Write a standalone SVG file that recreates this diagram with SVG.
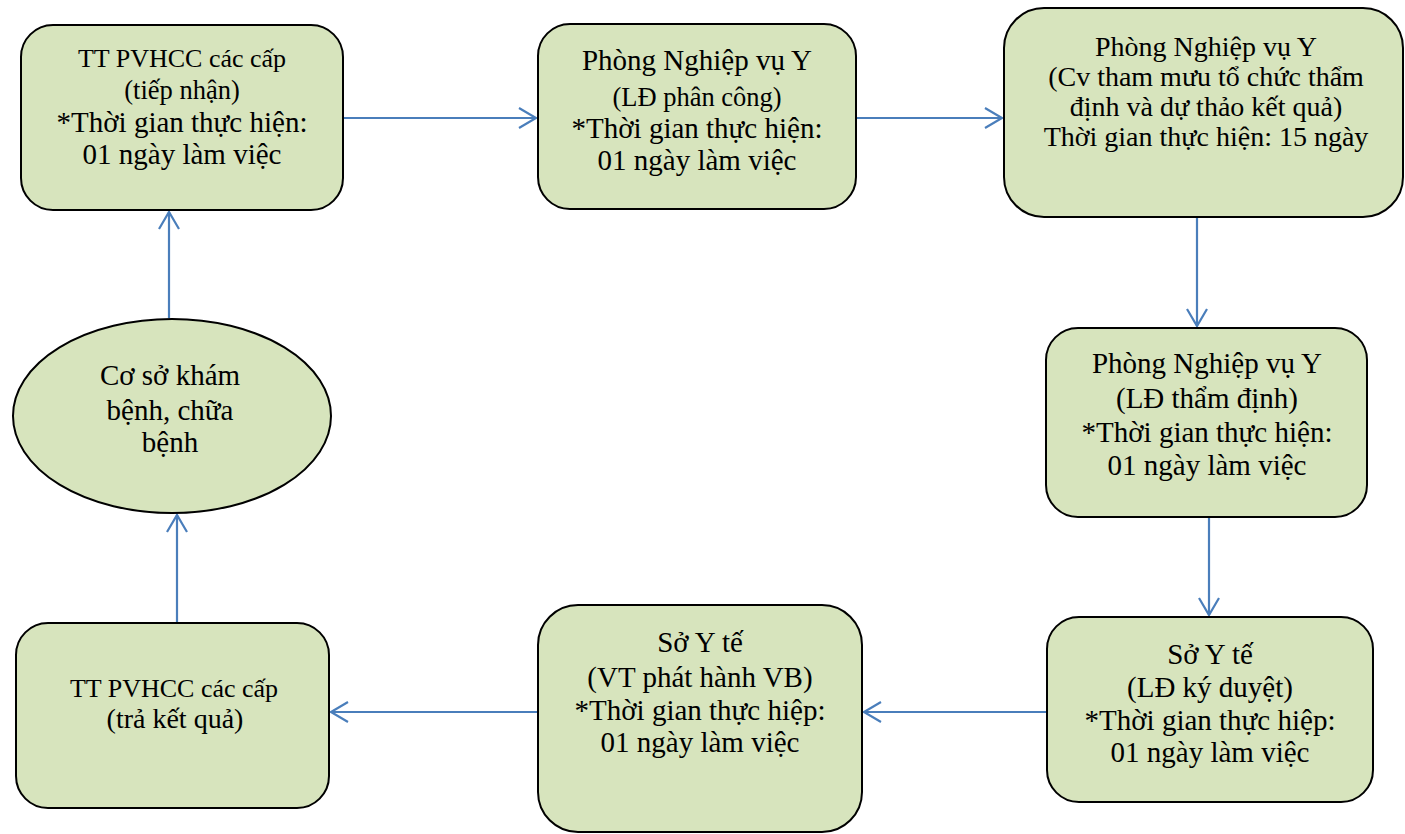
<svg xmlns="http://www.w3.org/2000/svg" width="1405" height="834" viewBox="0 0 1405 834">
<style>
.box{fill:#D7E4BD;stroke:#000;stroke-width:2}
.t{font-family:"Liberation Serif","Times New Roman",serif;font-size:29px;fill:#000;text-anchor:middle}
.s{font-size:26.5px}
.m{font-size:26px}
.l{font-size:28px}
.c{stroke:#4A7EBB;stroke-width:2.2;fill:none;marker-end:url(#ah)}
</style>
<defs>
<marker id="ah" markerUnits="userSpaceOnUse" markerWidth="22" markerHeight="24" refX="19" refY="12" orient="auto">
<path d="M2,2 L19,12 L2,22" fill="none" stroke="#4A7EBB" stroke-width="2.2"/>
</marker>
</defs>
<rect width="1405" height="834" fill="#fff"/>
<g id="connectors">
<line class="c" x1="343" y1="118" x2="536" y2="118"/>
<line class="c" x1="856" y1="118" x2="1002" y2="118"/>
<line class="c" x1="1197" y1="217" x2="1197" y2="326"/>
<line class="c" x1="1209" y1="517" x2="1209" y2="615"/>
<line class="c" x1="1047" y1="712" x2="864" y2="712"/>
<line class="c" x1="538" y1="712" x2="331" y2="712"/>
<line class="c" x1="177" y1="623" x2="177" y2="515"/>
<line class="c" x1="169" y1="318" x2="169" y2="212"/>
</g>
<g id="n1">
<rect class="box" x="21" y="25" width="322" height="185" rx="32"/>
<text class="t m" x="182" y="67">TT PVHCC các cấp</text>
<text class="t s" x="182" y="99">(tiếp nhận)</text>
<text class="t" x="182" y="132">*Thời gian thực hiện:</text>
<text class="t" x="182" y="164">01 ngày làm việc</text>
</g>
<g id="n2">
<rect class="box" x="538" y="24" width="318" height="185" rx="32"/>
<text class="t" x="697" y="70">Phòng Nghiệp vụ Y</text>
<text class="t s" x="697" y="106">(LĐ phân công)</text>
<text class="t" x="697" y="138">*Thời gian thực hiện:</text>
<text class="t" x="697" y="170">01 ngày làm việc</text>
</g>
<g id="n3">
<rect class="box" x="1004" y="8" width="399" height="209" rx="40"/>
<text class="t l" x="1206" y="56">Phòng Nghiệp vụ Y</text>
<text class="t l" x="1206" y="86">(Cv tham mưu tổ chức thẩm</text>
<text class="t l" x="1206" y="116">định và dự thảo kết quả)</text>
<text class="t l" x="1206" y="146">Thời gian thực hiện: 15 ngày</text>
</g>
<g id="n4">
<rect class="box" x="1046" y="328" width="321" height="189" rx="32"/>
<text class="t" x="1207" y="373">Phòng Nghiệp vụ Y</text>
<text class="t" x="1207" y="408">(LĐ thẩm định)</text>
<text class="t" x="1207" y="442">*Thời gian thực hiện:</text>
<text class="t" x="1207" y="475">01 ngày làm việc</text>
</g>
<g id="n5">
<ellipse class="box" cx="172" cy="416" rx="159" ry="97"/>
<text class="t" x="170" y="385">Cơ sở khám</text>
<text class="t" x="170" y="420">bệnh, chữa</text>
<text class="t" x="170" y="452">bệnh</text>
</g>
<g id="n6">
<rect class="box" x="16" y="623" width="313" height="185" rx="32"/>
<text class="t m" x="174" y="697">TT PVHCC các cấp</text>
<text class="t l" x="175" y="728">(trả kết quả)</text>
</g>
<g id="n7">
<rect class="box" x="538" y="605" width="324" height="227" rx="40"/>
<text class="t" x="700" y="652">Sở Y tế</text>
<text class="t" x="700" y="687">(VT phát hành VB)</text>
<text class="t" x="700" y="720">*Thời gian thực hiệp:</text>
<text class="t" x="700" y="752">01 ngày làm việc</text>
</g>
<g id="n8">
<rect class="box" x="1047" y="617" width="326" height="185" rx="32"/>
<text class="t" x="1210" y="664">Sở Y tế</text>
<text class="t" x="1210" y="697">(LĐ ký duyệt)</text>
<text class="t" x="1210" y="730">*Thời gian thực hiệp:</text>
<text class="t" x="1210" y="762">01 ngày làm việc</text>
</g>
</svg>
